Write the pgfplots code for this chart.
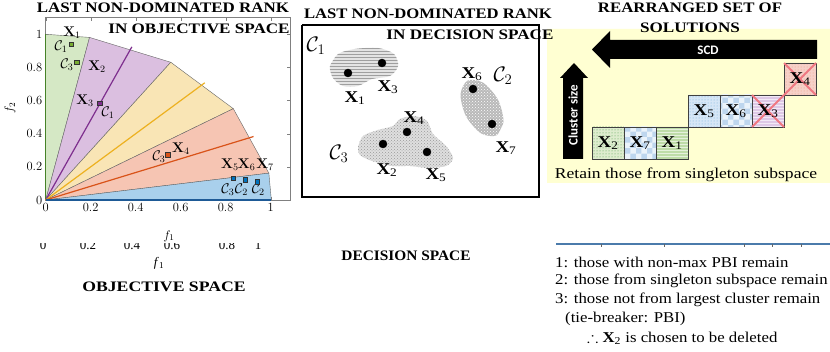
\RequirePackage{fix-cm}
\documentclass[border=0pt]{standalone}
\usepackage{graphicx}
\usepackage{amssymb}
\usepackage[no-math]{fontspec}
\setmainfont{Liberation Serif}
\newfontfamily\cfont{Carlito}
\usepackage{pgfplots}
\pgfplotsset{compat=1.18}
\usetikzlibrary{patterns}
\definecolor{rg}{RGB}{213,232,197}
\definecolor{rp}{RGB}{219,191,224}
\definecolor{ry}{RGB}{249,229,181}
\definecolor{rs}{RGB}{246,197,179}
\definecolor{rb}{RGB}{169,208,236}
\definecolor{lg}{RGB}{70,130,40}
\definecolor{lp}{RGB}{126,47,142}
\definecolor{ly}{RGB}{237,177,32}
\definecolor{lo}{RGB}{217,83,25}
\definecolor{lb}{RGB}{30,90,150}
\definecolor{mg}{RGB}{119,172,48}
\definecolor{mb}{RGB}{0,114,189}
\definecolor{ybg}{RGB}{255,255,210}
\definecolor{bxg}{RGB}{222,236,206}
\definecolor{bxg2}{RGB}{190,220,168}
\definecolor{bxb}{RGB}{190,214,238}
\definecolor{bxb2}{RGB}{214,230,246}
\definecolor{bxp}{RGB}{222,200,230}
\definecolor{bxs}{RGB}{246,208,200}
\definecolor{crs}{RGB}{240,120,130}
\newcommand{\bX}[1]{\scalebox{1.15}[1]{{\bfseries X}\textsubscript{#1}}}
\newcommand{\hs}[2]{\scalebox{#1}[1]{#2}}
\begin{document}
\begin{tikzpicture}[x=1pt,y=1pt]
\useasboundingbox (0,0) rectangle (830,352);
\fill[white] (0,0) rectangle (830,352);
% ---------------- objective space ----------------
\begin{axis}[scale only axis, width=244.3pt, height=182.3pt,
  at={(45.7pt,152pt)}, anchor=south west,
  xmin=0, xmax=1.086, ymin=0, ymax=1.1,
  xtick={0,0.2,0.4,0.6,0.8,1}, ytick={0,0.2,0.4,0.6,0.8,1},
  tick label style={font=\fontsize{12.5}{14}\selectfont},
  axis line style={black!50}, tick style={black!50}, major tick length=3pt,
  clip=false]
\addplot[fill=rg, draw=black!60, line width=0.4pt] coordinates {(0,0)(0,1)(0.195,0.981)(0,0)};
\addplot[fill=rp, draw=black!60, line width=0.4pt] coordinates {(0,0)(0.195,0.981)(0.556,0.831)(0,0)};
\addplot[fill=ry, draw=black!60, line width=0.4pt] coordinates {(0,0)(0.556,0.831)(0.834,0.551)(0,0)};
\addplot[fill=rs, draw=black!60, line width=0.4pt] coordinates {(0,0)(0.834,0.551)(0.992,0.162)(0,0)};
\addplot[fill=rb, draw=black!60, line width=0.4pt] coordinates {(0,0)(0.992,0.162)(1.003,0)(0,0)};
\addplot[lg, line width=1.5pt] coordinates {(0,0)(0,1)};
\addplot[lp, line width=1.2pt] coordinates {(0,0)(0.383,0.924)};
\addplot[ly, line width=1.2pt] coordinates {(0,0)(0.707,0.707)};
\addplot[lo, line width=1.2pt] coordinates {(0,0)(0.924,0.383)};
\addplot[lb, line width=2pt] coordinates {(0,0)(1.003,0)};
\addplot[only marks, mark=square*, mark size=2.3pt, draw=black!80, fill=mg] coordinates {(0.113,0.94)(0.138,0.831)};
\addplot[only marks, mark=square*, mark size=2.3pt, draw=black!80, fill=lp] coordinates {(0.241,0.583)};
\addplot[only marks, mark=square*, mark size=2.3pt, draw=black!80, fill=lo] coordinates {(0.541,0.272)};
\addplot[only marks, mark=square*, mark size=2.3pt, draw=black!80, fill=mb] coordinates {(0.834,0.131)(0.887,0.121)(0.941,0.111)};
\begin{scope}[every node/.style={font=\fontsize{14}{16}\selectfont, inner sep=0pt}]
\node at (axis cs:0.117,1.008) {$\mathbf{X}_1$};
\node at (axis cs:0.068,0.923) {$\mathcal{C}_1$};
\node at (axis cs:0.095,0.815) {$\mathcal{C}_3$};
\node at (axis cs:0.228,0.803) {$\mathbf{X}_2$};
\node at (axis cs:0.175,0.597) {$\mathbf{X}_3$};
\node at (axis cs:0.277,0.525) {$\mathcal{C}_1$};
\node at (axis cs:0.504,0.260) {$\mathcal{C}_3$};
\node at (axis cs:0.601,0.308) {$\mathbf{X}_4$};
\node at (axis cs:0.819,0.211) {$\mathbf{X}_5$};
\node at (axis cs:0.893,0.211) {$\mathbf{X}_6$};
\node at (axis cs:0.975,0.211) {$\mathbf{X}_7$};
\node at (axis cs:0.810,0.063) {$\mathcal{C}_3$};
\node at (axis cs:0.870,0.063) {$\mathcal{C}_2$};
\node at (axis cs:0.945,0.063) {$\mathcal{C}_2$};
\end{scope}
\end{axis}
% ---------------- overlay in pixel coordinates ----------------
\begin{axis}[scale only axis, width=830pt, height=352pt, at={(0pt,352pt)}, anchor=north west,
  xmin=0, xmax=830, ymin=0, ymax=352, y dir=reverse, hide axis, clip=false]
% yellow background
\addplot[fill=ybg, draw=none] coordinates {(547,29)(830,29)(830,183)(547,183)(547,29)};
% decision box
\addplot[draw=black, line width=1.1pt] coordinates {(302,25)(539,25)(539,197)(302,197)(302,25)};
% blobs
\addplot[smooth, fill=gray!22, draw=none, postaction={pattern=horizontal lines, pattern color=gray!75}]
 coordinates {(330,66)(338,54)(355,49)(378,48)(394,54)(398,66)(390,76)(372,79)(358,86)(343,86)(333,78)(330,66)(338,54)};
\addplot[smooth, fill=gray!25, draw=none, postaction={pattern=crosshatch dots, pattern color=gray!80}]
 coordinates {(358,147)(363,136)(378,130)(393,126)(400,119)(414,116)(427,121)(433,134)(446,146)(453,158)(446,166)(428,168)(410,166)(392,166)(372,161)(360,155)(358,147)(363,136)};
\addplot[smooth, fill=gray!55, draw=none, postaction={pattern=crosshatch dots, pattern color=white}]
 coordinates {(496.4,135.4)(503.5,121.5)(497.9,99.6)(483.1,82.7)(467.6,80.6)(460.5,94.5)(466.1,116.4)(480.9,133.3)(496.4,135.4)(503.5,121.5)};
% decision points
\addplot[only marks, mark=*, mark size=4pt, black] coordinates {(348,73)(382,63)(473,89)(492,124)(407,132)(383,144)(427,152)};
% right boxes
\addplot[fill=bxg, draw=black!75, line width=0.7pt, postaction={pattern=dots, pattern color=green!45!black!70}] coordinates {(592,127)(624,127)(624,159)(592,159)(592,127)};
\addplot[fill=bxb, draw=black!75, line width=0.7pt, postaction={pattern=checkerboard, pattern color=white!70!bxb}] coordinates {(624,127)(656,127)(656,159)(624,159)(624,127)};
\addplot[fill=bxg2, draw=black!75, line width=0.7pt, postaction={pattern=horizontal lines, pattern color=white!60!bxg2}] coordinates {(656,127)(688,127)(688,159)(656,159)(656,127)};
\addplot[fill=bxb2, draw=black!75, line width=0.7pt, postaction={pattern=dots, pattern color=mb!55}] coordinates {(688,95)(720,95)(720,127)(688,127)(688,95)};
\addplot[fill=bxb, draw=black!75, line width=0.7pt, postaction={pattern=checkerboard, pattern color=white!70!bxb}] coordinates {(720,95)(752,95)(752,127)(720,127)(720,95)};
\addplot[fill=bxp, draw=black!75, line width=0.7pt, postaction={pattern=horizontal lines, pattern color=white!60!bxp}] coordinates {(752,95)(784,95)(784,127)(752,127)(752,95)};
\addplot[fill=bxs, draw=black!75, line width=0.7pt, postaction={pattern=dots, pattern color=lo!55}] coordinates {(784,63)(816,63)(816,95)(784,95)(784,63)};
\addplot[crs, line width=1.8pt] coordinates {(752,95)(784,127)};
\addplot[crs, line width=1.8pt] coordinates {(752,127)(784,95)};
\addplot[crs, line width=1.8pt] coordinates {(784,63)(816,95)};
\addplot[crs, line width=1.8pt] coordinates {(784,95)(816,63)};
% arrows
\addplot[fill=black, draw=none] coordinates {(592,49.5)(610,31)(610,40)(817,40)(817,59)(610,59)(610,68)(592,49.5)};
\addplot[fill=black, draw=none] coordinates {(574,63)(588,78)(583,78)(583,159)(563,159)(563,78)(560,78)(574,63)};
% artifact line
\addplot[draw=lb!80, line width=1.5pt] coordinates {(556,244)(830,244)};
\addplot[draw=black!60, line width=0.6pt] coordinates {(601,244)(601,247.5)};
\addplot[draw=black!60, line width=0.6pt] coordinates {(664,244)(664,247.5)};
\addplot[draw=black!60, line width=0.6pt] coordinates {(744,244)(744,247.5)};
\addplot[draw=black!60, line width=0.6pt] coordinates {(772,244)(772,247.5)};
\addplot[draw=black!60, line width=0.6pt] coordinates {(801,244)(801,247.5)};
% ---- texts ----
\begin{scope}[every node/.style={font=\bfseries\fontsize{14.5}{16}\selectfont, inner sep=0pt}]
\node at (axis cs:163,8) {\hs{1.17}{LAST NON-DOMINATED RANK}};
\node at (axis cs:199,29) {\hs{1.18}{IN OBJECTIVE SPACE}};
\node at (axis cs:428,14) {\hs{1.15}{LAST NON-DOMINATED RANK}};
\node at (axis cs:470,35) {\hs{1.18}{IN DECISION SPACE}};
\node at (axis cs:690,8) {\hs{1.16}{REARRANGED SET OF}};
\node at (axis cs:690,28) {\hs{1.18}{SOLUTIONS}};
\node at (axis cs:164,287) {\hs{1.22}{OBJECTIVE SPACE}};
\node at (axis cs:406,256) {\hs{1.06}{DECISION SPACE}};
\end{scope}
\node[font=\fontsize{12.5}{14}\selectfont, inner sep=0pt] at (axis cs:169,236) {$f_1$};
\node[font=\fontsize{12.5}{14}\selectfont, rotate=90, inner sep=0pt] at (axis cs:10,108) {$f_2$};
\begin{scope}[every node/.style={font=\fontsize{21}{23}\selectfont, inner sep=0pt}]
\node at (axis cs:316,46) {$\mathcal{C}_1$};
\node at (axis cs:503,76) {$\mathcal{C}_2$};
\node at (axis cs:339,154) {$\mathcal{C}_3$};
\end{scope}
\begin{scope}[every node/.style={font=\fontsize{16.5}{18}\selectfont, inner sep=0pt}]
\node at (axis cs:355,98) {\bX{1}};
\node at (axis cs:388,87) {\bX{3}};
\node at (axis cs:472,74) {\bX{6}};
\node at (axis cs:414,118) {\bX{4}};
\node at (axis cs:506,148) {\bX{7}};
\node at (axis cs:387,170) {\bX{2}};
\node at (axis cs:436,175) {\bX{5}};
\node at (axis cs:608,143) {\bX{2}};
\node at (axis cs:640,143) {\bX{7}};
\node at (axis cs:672,143) {\bX{1}};
\node at (axis cs:704,111) {\bX{5}};
\node at (axis cs:736,111) {\bX{6}};
\node at (axis cs:768,111) {\bX{3}};
\node at (axis cs:800,79) {\bX{4}};
\end{scope}
\node[font=\cfont\bfseries\fontsize{13}{14}\selectfont, text=white, inner sep=0pt] at (axis cs:708,50) {SCD};
\node[font=\cfont\bfseries\fontsize{13}{14}\selectfont, text=white, inner sep=0pt, rotate=90] at (axis cs:573,115) {Cluster size};
\node[font=\fontsize{15}{17}\selectfont, inner sep=0pt] at (axis cs:686,175) {\hs{1.17}{Retain those from singleton subspace}};
\begin{scope}[every node/.style={font=\fontsize{15}{17}\selectfont, inner sep=0pt, anchor=west}]
\node at (axis cs:555,262) {\hs{1.12}{1: those with non-max PBI remain}};
\node at (axis cs:555,281) {\hs{1.12}{2: those from singleton subspace remain}};
\node at (axis cs:555,300) {\hs{1.12}{3: those not from largest cluster remain}};
\node at (axis cs:565,319) {\hs{1.12}{(tie-breaker: PBI)}};
\node at (axis cs:587,338) {\hs{1.12}{$\therefore$ {\bfseries X}\textsubscript{2} is chosen to be deleted}};
\end{scope}
\end{axis}
% ghost tick labels (cut)
\begin{scope}
\clip (0,{352-243.5}) rectangle (300,{352-252});
\foreach \xx/\tt in {43/0,88/0.2,132/0.4,172/0.6,227/0.8,258/1}
  \node[anchor=base, inner sep=0pt, font=\fontsize{13}{14}\selectfont] at (\xx,{352-249.3}) {\tt};
\end{scope}
\node[inner sep=0pt, font=\fontsize{13}{14}\selectfont] at (159,{352-263}) {\textit{f}\textsubscript{1}};
\end{tikzpicture}
\end{document}
